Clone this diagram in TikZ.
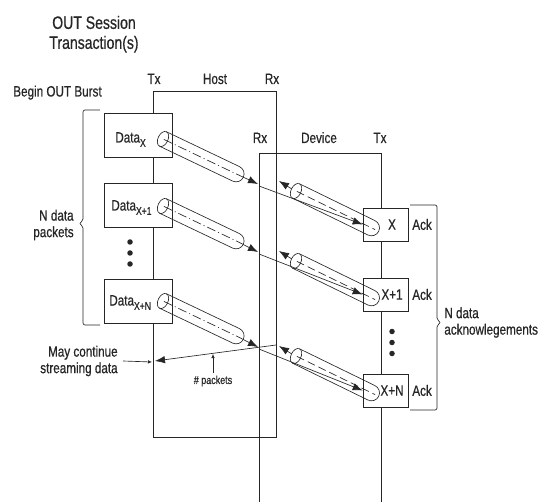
\documentclass[tikz,border=0pt]{standalone}
\usepackage{fontspec}
\setmainfont{Liberation Sans}[FakeStretch=0.78,FakeBold=0.6]
\usetikzlibrary{arrows.meta}
% lowered subscript of the packet names
\newcommand{\pktsub}[1]{\raisebox{-4.3pt}{\fontsize{11}{11}\selectfont #1}}
\begin{document}
\begin{tikzpicture}[x=1pt,y=-1pt,line width=0.65pt,color=black!85,
    txt/.style={inner sep=0pt,font=\fontsize{15}{16.5}\selectfont},
    datbox/.style={draw,fill=white,minimum width=68pt,minimum height=44pt,inner sep=0pt},
    ackbox/.style={draw,fill=white,minimum width=45pt,minimum height=33pt,inner sep=0pt},
    bigtip/.style={-{Latex[length=10pt,width=7.5pt]}},
    smalltip/.style={-{Latex[length=4pt,width=3.5pt]}},
    bullet/.style={circle,fill,inner sep=0pt,minimum size=5.5pt},
    tubeaxis/.style={dash pattern=on 9pt off 3pt on 1pt off 3pt},
    ackaxis/.style={dash pattern=on 8pt off 4pt}]
    \useasboundingbox (0,0) rectangle (540,502);
    % Title
    \node[txt,font=\fontsize{18}{20}\selectfont,align=center,anchor=north] (title) at (94,15.5) {OUT Session\\Transaction(s)};
    \node[txt,anchor=base] (burst) at (57.5,96.5) {Begin OUT Burst};
    % Host
    \draw (153,91) rectangle (276,437);
    \node[txt,anchor=base] (htx) at (154,84) {Tx};
    \node[txt,anchor=base] (host) at (215,84) {Host};
    \node[txt,anchor=base] (hrx) at (272,84) {Rx};
    % Device (open at the bottom)
    \draw (259,502) -- (259,153) -- (381,153) -- (381,502);
    \node[txt,anchor=base] (drx) at (260,143) {Rx};
    \node[txt,anchor=base] (dev) at (319,143) {Device};
    \node[txt,anchor=base] (dtx) at (380,143) {Tx};
    % Data packets (host Tx)
    \node[datbox] (d1) at (138,135) {}; \node[datbox] (d2) at (138,205) {}; \node[datbox] (d3) at (138,301) {};
    \node[txt,anchor=base west] (d1t) at (115,142.5) {Data\pktsub{X}};
    \node[txt,anchor=base west] (d2t) at (111,210.5) {Data\pktsub{X+1}};
    \node[txt,anchor=base west] (d3t) at (109,305.5) {Data\pktsub{X+N}};
    \node[bullet] (dd1) at (130,242) {}; \node[bullet] (dd2) at (130,253) {}; \node[bullet] (dd3) at (130,264) {};
    % Acks (device Tx)
    \node[ackbox] (a1) at (385.5,224.5) {}; \node[ackbox] (a2) at (385.5,294.5) {}; \node[ackbox] (a3) at (385.5,390.5) {};
    \node[txt] (a1t) at (392,224.5) {X}; \node[txt] (a2t) at (392,294.5) {X+1}; \node[txt] (a3t) at (392,390.5) {X+N};
    \node[txt,anchor=west] (k1) at (412,224.5) {Ack}; \node[txt,anchor=west] (k2) at (412,294.5) {Ack}; \node[txt,anchor=west] (k3) at (412,390.5) {Ack};
    \node[bullet] (ad1) at (392,331.5) {}; \node[bullet] (ad2) at (392,342.5) {}; \node[bullet] (ad3) at (392,353.5) {};
    % Data tubes, host Tx to device Rx
    \foreach \i/\ey/\tp in {1/139/184,2/206/252,3/301/347}{
        \coordinate (rx\i) at (258,\tp);
        \begin{scope}[shift={(163,\ey)},rotate=-25.5,y=1pt]
            \draw (0,8) -- (81,8) arc[start angle=90,end angle=-90,radius=8] -- (0,-8);
            \draw (0,0) ellipse[x radius=5,y radius=8];
            \draw[tubeaxis] (1,0) -- (81,0);
            \draw[bigtip] (81,0) -- (rx\i);
        \end{scope}
    }
    % Ack tubes, device Tx back to host Rx
    \foreach \i/\ay in {1/228,2/298,3/393}{
        \coordinate (hin\i) at (279,\ay-47);
        \begin{scope}[shift={(296,\ay-37)},rotate=-26,y=1pt]
            \draw (0,8) -- (84,8) arc[start angle=90,end angle=-90,radius=8] -- (0,-8);
            \draw (0,0) ellipse[x radius=5,y radius=8];
            \draw[ackaxis] (1,0) -- (88,0);
            \draw[bigtip] (-5,0) -- (hin\i);
        \end{scope}
        \draw[bigtip] ([shift={(1pt,-2pt)}]rx\i) -- (a\i.west);
    }
    % Streaming goes on
    \coordinate (ackin) at (276,345);
    \coordinate (strm) at (155,361);
    \coordinate (htxpt) at (152,362);
    \draw[bigtip] (ackin) -- (strm);
    \node[txt,align=right,anchor=east] (may) at (118,361) {May continue\\streaming data};
    \draw[smalltip] ([xshift=5pt]may.east) -- (htxpt);
    \node[inner sep=0pt,font=\fontsize{11.5}{12}\selectfont] (npk) at (213,381) {\# packets};
    \coordinate (pk) at (213,354);
    \draw[smalltip] ([yshift=2pt]npk.north) -- (pk);
    % Braces
    \draw[rounded corners=2pt] (100,110) -- (83,110) -- (83,221) -- (79,223.5) -- (83,226) -- (83,325) -- (100,325);
    \node[txt,align=right,anchor=east] (ndp) at (74,225) {N data\\packets};
    \draw[rounded corners=2pt] (410,205) -- (437,205) -- (437,320) -- (441,322.5) -- (437,325) -- (437,410) -- (410,410);
    \node[txt,align=left,anchor=west] (nda) at (444,322.5) {N data\\acknowlegements};
\end{tikzpicture}
\end{document}
